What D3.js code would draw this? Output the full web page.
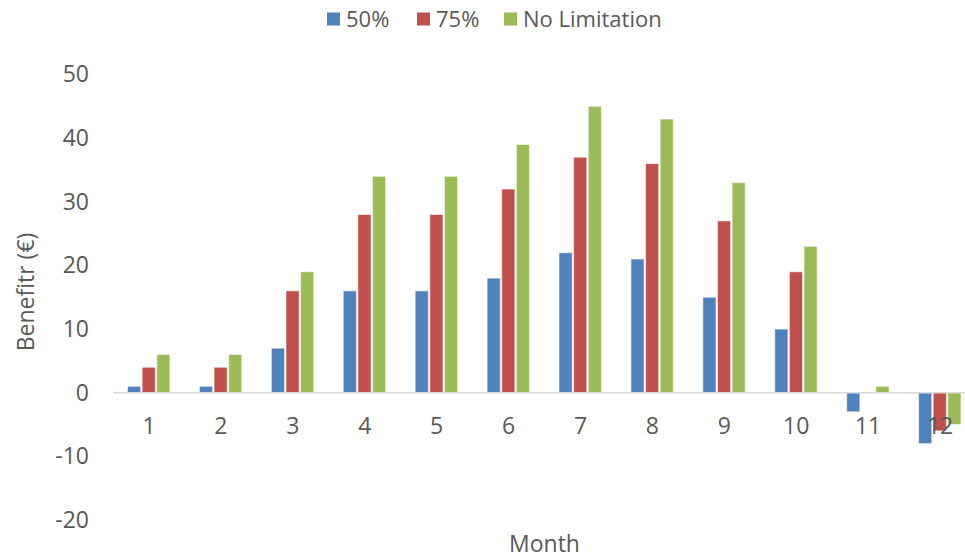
<!DOCTYPE html>
<html>
<head>
<meta charset="utf-8">
<script src="https://cdn.jsdelivr.net/npm/d3@7"></script>
<style>
  html, body { margin: 0; padding: 0; background: #ffffff; }
  svg { display: block; }
  text { font-family: "Open Sans", "Noto Sans", sans-serif; fill: #595959; }
</style>
</head>
<body>
<svg id="chart" width="965" height="558"></svg>
<script>
// Monthly benefit per limitation scenario
const months = ["1", "2", "3", "4", "5", "6", "7", "8", "9", "10", "11", "12"];
const seriesNames = ["50%", "75%", "No Limitation"];
const values50 = [1, 1, 7, 16, 16, 18, 22, 21, 15, 10, -3, -8];
const values75 = [4, 4, 16, 28, 28, 32, 37, 36, 27, 19, 0, -6];
const valuesNoLimit = [6, 6, 19, 34, 34, 39, 45, 43, 33, 23, 1, -5];
const yTicks = [-20, -10, 0, 10, 20, 30, 40, 50];
const colors = ["#4F81BD", "#C0504D", "#9BBB59"];

const seriesValues = [values50, values75, valuesNoLimit];
const rows = months.map((m, i) => ({
  month: m,
  vals: seriesNames.map((s, k) => ({ key: s, value: seriesValues[k][i], color: colors[k] }))
}));

const svg = d3.select("#chart");

const y = d3.scaleLinear().domain([-20, 50]).range([520, 74.5]);
const x = d3.scaleBand().domain(months).range([113, 976])
  .paddingInner(0.39).paddingOuter(0.195);
const xs = d3.scaleBand().domain(seriesNames).range([0, x.bandwidth()]).padding(0);

// Y axis labels (no axis line, no gridlines), plain hyphen for negatives
const yAxis = d3.axisLeft(y).tickValues(yTicks).tickSize(0).tickPadding(0)
  .tickFormat(d => String(d));
const yg = svg.append("g").attr("transform", "translate(89,0)").call(yAxis);
yg.select(".domain").remove();
yg.selectAll("text")
  .attr("font-size", 23)
  .attr("fill", "#595959")
  .attr("font-family", "'Open Sans', sans-serif");

// Bars
const groups = svg.append("g").selectAll("g")
  .data(rows).join("g")
  .attr("transform", d => `translate(${x(d.month)},0)`);

groups.selectAll("rect")
  .data(d => d.vals).join("rect")
  .attr("x", d => xs(d.key) + 0.5)
  .attr("width", xs.bandwidth() - 1.5)
  .attr("y", d => y(Math.max(0, d.value)))
  .attr("height", d => Math.abs(y(d.value) - y(0)))
  .attr("fill", d => d.color)
  .attr("stroke", "rgba(255,255,255,0.55)")
  .attr("stroke-width", 1);

// Category axis along zero
const xAxis = d3.axisBottom(x).tickSize(0).tickPadding(0);
const xg = svg.append("g").attr("transform", `translate(0,${y(0)})`).call(xAxis);
xg.select(".domain").remove();
xg.selectAll("text")
  .attr("dy", null)
  .attr("y", 41)
  .attr("font-size", 23)
  .attr("fill", "#595959")
  .attr("font-family", "'Open Sans', sans-serif");

svg.append("line")
  .attr("x1", 113).attr("x2", 965)
  .attr("y1", y(0)).attr("y2", y(0))
  .attr("stroke", "#d9d9d9").attr("stroke-width", 1.5);

// Axis titles
svg.append("text")
  .attr("x", (113 + 976) / 2).attr("y", 552)
  .attr("text-anchor", "middle")
  .attr("font-size", 23)
  .text("Month");

svg.append("text")
  .attr("transform", "translate(34,292) rotate(-90)")
  .attr("text-anchor", "middle")
  .attr("font-size", 23)
  .text("Benefitr (€)");

// Legend
const legendX = [327, 417, 504];
const legend = svg.append("g").selectAll("g")
  .data(seriesNames).join("g")
  .attr("transform", (d, i) => `translate(${legendX[i]},0)`);
legend.append("rect")
  .attr("x", 0).attr("y", 12.5).attr("width", 13).attr("height", 13)
  .attr("fill", (d, i) => colors[i]);
legend.append("text")
  .attr("x", 19).attr("y", 27)
  .attr("font-size", 22)
  .text(d => d);
</script>
</body>
</html>
